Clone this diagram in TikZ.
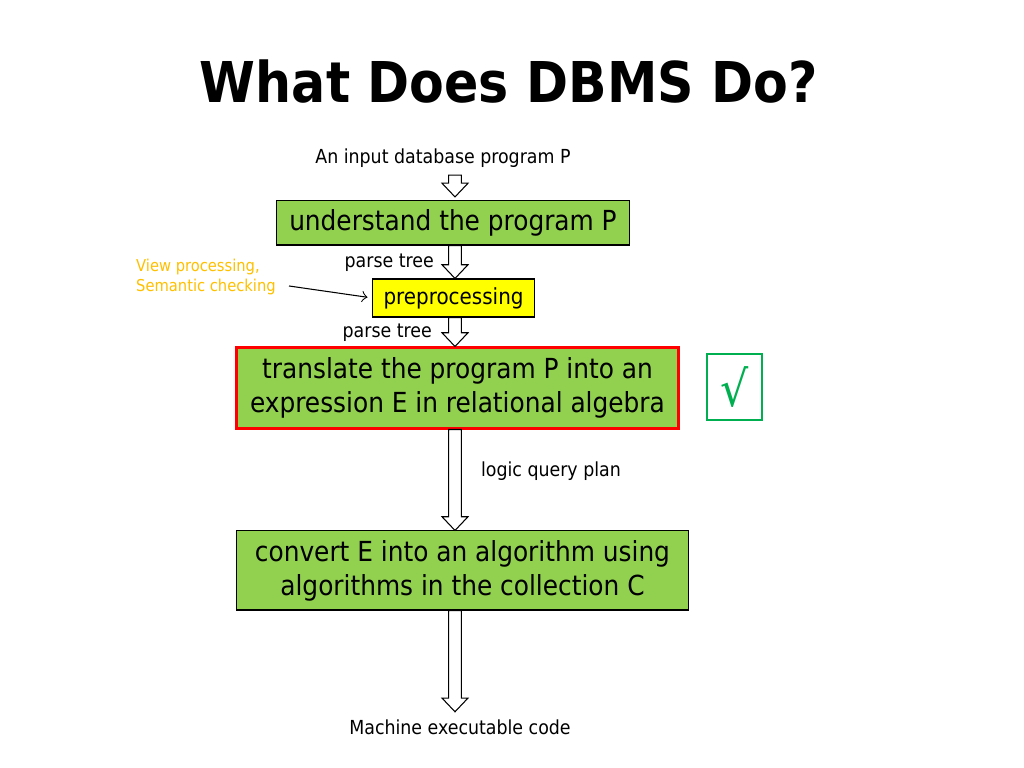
\documentclass[tikz,border=0pt]{standalone}
\usepackage{fontspec}
\setmainfont{DejaVu Sans Condensed}
\usetikzlibrary{calc}
\definecolor{boxgreen}{HTML}{92D050}
\definecolor{boxyellow}{HTML}{FFFF00}
\definecolor{noteorange}{HTML}{FFC000}
\definecolor{checkgreen}{HTML}{00B050}
\newcommand{\hollowarrow}[2]{%
  \draw[blockarrow] let \p1=(#1), \p2=(#2) in
    (\x1-1.8pt,\y1) -- (\x1+1.8pt,\y1) -- (\x1+1.8pt,\y2+3.9pt) -- (\x1+3.7pt,\y2+3.9pt)
    -- (\x1,\y2) -- (\x1-3.7pt,\y2+3.9pt) -- (\x1-1.8pt,\y2+3.9pt) -- cycle;}

\begin{document}
\begin{tikzpicture}[x=0.01cm, y=-0.01cm,
    stepbox/.style={draw=black, line width=0.3pt, fill=boxgreen, align=center,
      font=\fontsize{7.85}{9.7}\selectfont, inner sep=0pt},
    smalltext/.style={font=\fontsize{5.5}{6.4}\selectfont, inner sep=1pt},
    blockarrow/.style={draw=black, line width=0.3pt, fill=white, line join=miter}]
  \useasboundingbox (0,0) rectangle (1024,768);
  \fill[white] (0,0) rectangle (1024,768);
  \node (title) at (509,82) {\fontsize{16}{19}\selectfont\bfseries What Does DBMS Do?};
  \coordinate (spine) at (455,0);
  % the four steps
  \node[smalltext] (input) at (443,158) {An input database program P};
  \node[stepbox, minimum width=3.52cm, minimum height=0.44cm] (understand) at (453,223) {understand the program P};
  \node[stepbox, fill=boxyellow, font=\fontsize{6.3}{7.5}\selectfont, minimum width=1.61cm, minimum height=0.38cm] (prep) at (453.5,298) {preprocessing};
  \node[stepbox, draw=red, line width=0.85pt, minimum width=4.41cm, minimum height=0.80cm] (translate) at (457.5,388)
    {translate the program P into an\\expression E in relational algebra};
  \node[stepbox, minimum width=4.51cm, minimum height=0.79cm] (convert) at (462.5,570.5)
    {convert E into an algorithm using\\algorithms in the collection C};
  \node[smalltext] (output) at (460,727) {Machine executable code};
  \node[draw=checkgreen, line width=0.6pt, text=checkgreen, minimum width=0.55cm, minimum height=0.66cm, inner sep=0pt,
    font=\fontsize{14}{16}\selectfont] (check) at (734.5,387) {√};
  % labels on the arrows
  \node[smalltext, anchor=east] (tree1) at (438,263) {parse tree};
  \node[smalltext, anchor=east] (tree2) at (436,333) {parse tree};
  \node[smalltext] (plan) at (551,471) {logic query plan};
  \node[smalltext, font=\fontsize{4.65}{5.7}\selectfont, anchor=west, align=left, text=noteorange] (view) at (132,277)
    {View processing,\\Semantic checking};
  \coordinate (viewtail) at (289,286);
  % arrows
  \hollowarrow{[yshift=-1pt]input.south -| spine}{[yshift=1pt]understand.north -| spine}
  \hollowarrow{understand.south -| spine}{prep.north -| spine}
  \hollowarrow{prep.south -| spine}{translate.north -| spine}
  \hollowarrow{translate.south -| spine}{convert.north -| spine}
  \hollowarrow{convert.south -| spine}{[yshift=1pt]output.north -| spine}
  \draw[->, line width=0.3pt, shorten >=1.4pt] (viewtail) -- (prep.west);
\end{tikzpicture}
\end{document}
